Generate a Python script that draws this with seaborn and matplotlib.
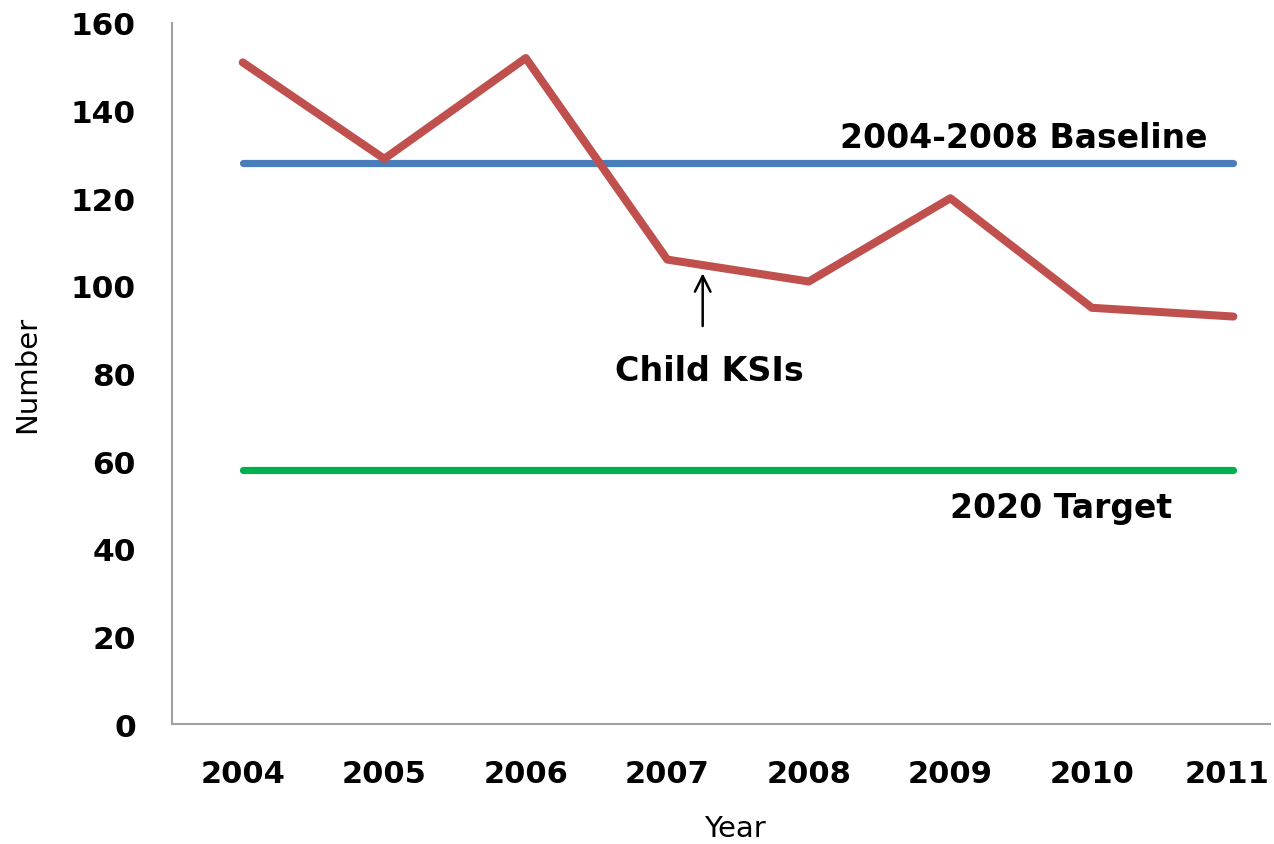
import matplotlib
matplotlib.use("Agg")
import matplotlib.pyplot as plt
import matplotlib.transforms as mtransforms
import seaborn as sns
import numpy as np
import pandas as pd

years = ["2004", "2005", "2006", "2007", "2008", "2009", "2010", "2011"]
child_ksis = [151, 129, 152, 106, 101, 120, 95, 93]
baseline = [128] * 8
target = [58] * 8
y_ticks = [0, 20, 40, 60, 80, 100, 120, 140, 160]

sns.set_theme(style="white")
plt.rcParams['font.family'] = ['DejaVu Sans']

fig = plt.figure(figsize=(12.74, 8.45), dpi=100)
ax = fig.add_axes([0.135, 0.142, 0.862, 0.8296])

pos = np.arange(len(years))
df = pd.DataFrame({"pos": pos, "child": child_ksis, "base": baseline, "target": target})

sns.lineplot(data=df, x="pos", y="base", ax=ax, color="#4A7EBB", linewidth=5.2,
             solid_capstyle="round")
sns.lineplot(data=df, x="pos", y="target", ax=ax, color="#00B050", linewidth=5.2,
             solid_capstyle="round")
sns.lineplot(data=df, x="pos", y="child", ax=ax, color="#C0504D", linewidth=5.8,
             solid_capstyle="round", solid_joinstyle="round")

ax.set_xlim(-0.5, 7.26)
ax.set_ylim(0, 160)
ax.set_xticks(pos)
ax.set_xticklabels(years)
ax.set_yticks(y_ticks)
ax.tick_params(axis="y", length=0, labelsize=22.5, pad=26)
ax.tick_params(axis="x", length=0, labelsize=22, pad=25)
for lbl in ax.get_xticklabels() + ax.get_yticklabels():
    lbl.set_fontweight("bold")
    lbl.set_color("black")
# nudge the last x label slightly left so it stays inside the canvas
last = ax.get_xticklabels()[-1]
last.set_transform(last.get_transform() +
                   mtransforms.ScaledTranslation(-6 / 100, 0, fig.dpi_scale_trans))

for side in ["top", "right"]:
    ax.spines[side].set_visible(False)
for side in ["left", "bottom"]:
    ax.spines[side].set_color("#A0A0A0")
    ax.spines[side].set_linewidth(1.5)

ax.set_ylabel("Number", fontsize=21, color="black")
ax.set_xlabel("Year", fontsize=21, color="black", va="bottom")
ax.yaxis.set_label_coords(-0.119, 0.5)
ax.xaxis.set_label_coords(0.513, -0.168)

ax.text(5.52, 133.8, "2004-2008 Baseline", fontsize=23.8, fontweight="bold",
        ha="center", va="center", color="black")
ax.text(5.78, 49.5, "2020 Target", fontsize=23.8, fontweight="bold",
        ha="center", va="center", color="black")
ax.text(3.30, 80.6, "Child KSIs", fontsize=24, fontweight="bold",
        ha="center", va="center", color="black")
ax.annotate("", xy=(3.25, 103.5), xytext=(3.25, 90.2),
            arrowprops=dict(arrowstyle="->", color="black", lw=1.8,
                            mutation_scale=28))

fig.savefig("out.png", dpi=100)
